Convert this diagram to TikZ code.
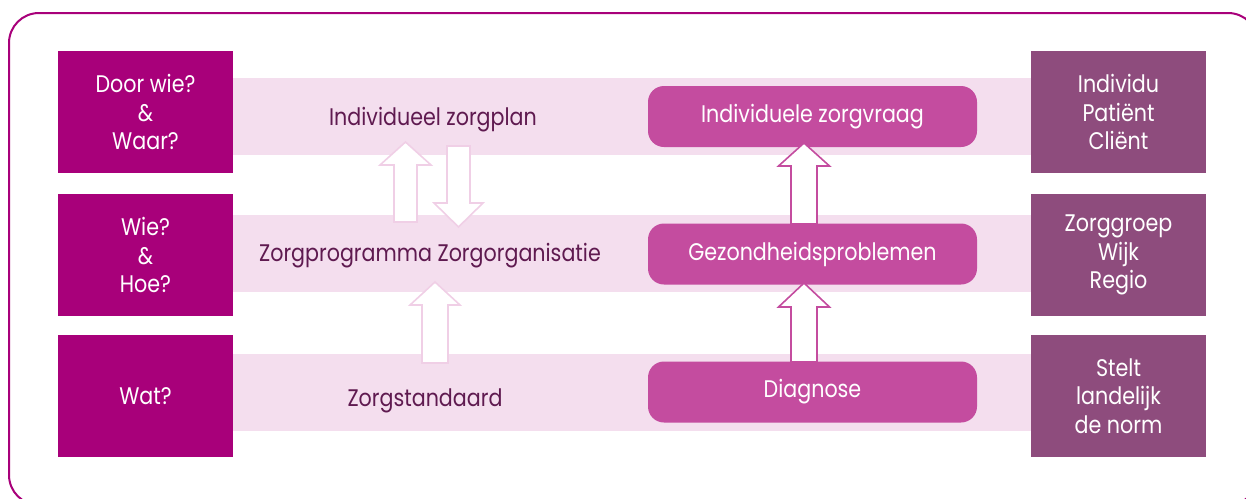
\documentclass[tikz,border=0pt]{standalone}
\usepackage{fontspec}
\setmainfont[FakeStretch=0.86]{Poppins}
\definecolor{mag}{HTML}{A8007A}
\definecolor{plum}{HTML}{8E4C7D}
\definecolor{rose}{HTML}{C44C9F}
\definecolor{band}{HTML}{F4DEEE}
\definecolor{darktext}{HTML}{5F1A50}
\definecolor{lightstroke}{HTML}{F0CFE6}
\newcommand{\fatarrow}[7]{\draw[#1] (#2,#3) -- ({#2+#6},#4) -- ({#2+#7},#4) -- ({#2+#7},#5) -- ({#2-#7},#5) -- ({#2-#7},#4) -- ({#2-#6},#4) -- cycle;}
\tikzset{
  lbl/.style={font=\fontsize{24}{28.7}\selectfont, align=center, inner sep=0pt},
  leftbox/.style={lbl, fill=mag, text=white, minimum width=175pt, minimum height=122pt},
  rightbox/.style={lbl, fill=plum, text=white, minimum width=175pt, minimum height=122pt},
  bandbox/.style={fill=band, inner sep=0pt, minimum width=798pt, minimum height=77pt},
  rbox/.style={lbl, fill=rose, text=white, rounded corners=16pt, minimum width=329pt, minimum height=61pt},
  plaintext/.style={lbl, text=darktext, anchor=base},
  rosearrow/.style={draw=rose, fill=white, line width=1.6pt, line join=miter},
  palearrow/.style={draw=lightstroke, fill=white, line width=1.6pt, line join=miter},
  frame/.style={draw=mag, line width=2pt, rounded corners=30pt}
}
\begin{document}
\begin{tikzpicture}[x=1pt,y=-1pt]
\useasboundingbox (0,0) rectangle (1246,498);
\begin{scope}
\clip (0,0) rectangle (1246,498);
\draw[frame] (9,13) rectangle (1258,505);
\end{scope}
% bands
\node[bandbox] (b1) at (632,116.5) {};
\node[bandbox] (b2) at (632,253.5) {};
\node[bandbox] (b3) at (632,392.5) {};
% left boxes
\node[leftbox] (l1) at (145.5,112) {Door wie?\\\&\\Waar?};
\node[leftbox] (l2) at (145.5,255) {Wie?\\\&\\Hoe?};
\node[leftbox] (l3) at (145.5,396) {Wat?};
% right boxes
\node[rightbox] (q1) at (1118.5,112) {Individu\\Patiënt\\Cliënt};
\node[rightbox] (q2) at (1118.5,255) {Zorggroep\\Wijk\\Regio};
\node[rightbox] (q3) at (1118.5,396) {Stelt\\landelijk\\de norm};
% rounded boxes
\node[rbox] (r1) at (812.5,116.5) {Individuele zorgvraag};
\node[rbox] (r2) at (812.5,254) {Gezondheidsproblemen};
\node[rbox] (r3) at (812.5,392) {Diagnose};
% plain texts
\node[plaintext] (t1) at (433,125) {Individueel zorgplan};
\node[plaintext] (t2) at (430,261.5) {Zorgprogramma Zorgorganisatie};
\node[plaintext] (t3) at (425,406) {Zorgstandaard};
% arrows
\fatarrow{palearrow}{405.5}{142}{165}{222}{25.5}{11.5}
\fatarrow{palearrow}{458.5}{227}{203}{146}{24.5}{11.5}
\fatarrow{palearrow}{435}{282}{305}{363}{25}{13}
\fatarrow{rosearrow}{804}{143}{166}{224}{25.5}{13}
\fatarrow{rosearrow}{804}{283}{307}{362}{25.5}{13}
\end{tikzpicture}
\end{document}
